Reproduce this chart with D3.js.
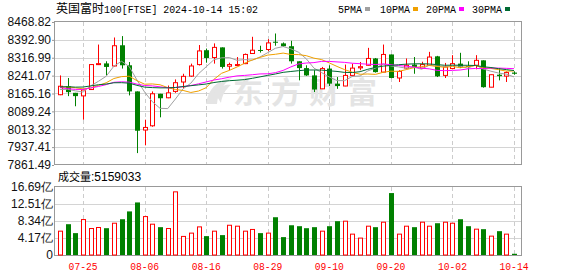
<!DOCTYPE html>
<html>
<head>
<meta charset="utf-8">
<script src="https://cdn.jsdelivr.net/npm/d3@7/dist/d3.min.js"></script>
<style>
	body { margin: 0; background: #fff; }
</style>
</head>
<body>
<svg id="chart" width="578" height="276"></svg>
<script>

// ---- data ----
var dates = ["07-22","07-23","07-24","07-25","07-26","07-29","07-30","07-31","08-01","08-02",
	"08-05","08-06","08-07","08-08","08-09","08-12","08-13","08-14","08-15","08-16",
	"08-19","08-20","08-21","08-22","08-23","08-27","08-28","08-29","08-30","09-02",
	"09-03","09-04","09-05","09-06","09-09","09-10","09-11","09-12","09-13","09-16",
	"09-17","09-18","09-19","09-20","09-23","09-24","09-25","09-26","09-27","09-30",
	"10-01","10-02","10-03","10-04","10-07","10-08","10-09","10-10","10-11","10-14"];

var open  = [8160,8196,8168,8155,8182,8288,8293,8282,8370,8285, 8174,8010,8028,8164,8147,8174,8214,8239,8288,8349,
	8318,8361,8281,8285,8292,8335,8350,8352,8385,8378, 8366,8302,8273,8242,8185,8271,8207,8197,8242,8274,
	8285,8314,8256,8331,8231,8273,8288,8273,8285,8323, 8242,8271,8292,8282,8285,8306,8192,8245,8239,8254];
var high  = [8242,8231,8168,8182,8290,8373,8302,8403,8409,8299, 8174,8054,8174,8164,8199,8225,8249,8292,8371,8356,
	8378,8361,8296,8320,8335,8406,8368,8396,8420,8382, 8389,8302,8285,8264,8278,8285,8235,8288,8292,8299,
	8359,8316,8373,8331,8264,8314,8320,8300,8342,8325, 8295,8328,8338,8302,8328,8306,8245,8273,8259,8259];
var low   = [8158,8154,8111,8054,8180,8286,8242,8280,8271,8157, 7912,7945,8024,8064,8145,8168,8188,8236,8284,8296,
	8292,8271,8264,8282,8290,8334,8339,8345,8368,8363, 8292,8221,8240,8171,8184,8197,8185,8196,8238,8264,
	8284,8254,8255,8230,8214,8268,8249,8270,8283,8235, 8231,8268,8273,8235,8268,8190,8192,8221,8214,8245];
var close = [8196,8171,8154,8180,8288,8292,8278,8368,8285,8174, 8007,8021,8164,8145,8168,8211,8238,8282,8346,8316,
	8361,8278,8288,8288,8331,8349,8346,8380,8381,8366, 8302,8273,8242,8182,8271,8207,8197,8242,8273,8279,
	8314,8256,8331,8231,8259,8285,8278,8288,8320,8238, 8278,8292,8278,8278,8306,8192,8245,8239,8254,8249];

// closes of the 29 sessions before 07-22, only used so the averages start at the left edge
var prevClose = [8147.81,8215.48,8163.67,8146.86,8142.15,8191.29,8205.11,8272.46,8237.72,8281.55,
	8247.79,8225.33,8179.68,8164.12,8166.76,8121.20,8171.17,8241.26,8203.93,8175.53,
	8139.81,8193.51,8223.34,8252.91,8182.96,8164.90,8187.46,8204.89,8155.72];

// volume, 亿
var volume = [5.85,7.56,5.37,8.7,6.5,6.75,6.58,7.8,8.78,10.7, 12.9,9.43,7.56,6.83,6.5,15.5,4.56,5.37,6.9,4.63,
	5.85,4.88,7.3,7.07,5.85,6.27,5.37,5.37,9.27,4.39, 7.3,7.07,6.58,6.83,5.85,7.07,8.3,8.3,5.12,4.15,
	7.07,6.83,8.05,15.2,5.12,7.07,6.83,8.05,7.07,7.8, 8.05,7.8,8.78,7.07,6.34,6.34,4.63,5.85,5.12,0.3];

var yTicks = [7861.49,7937.41,8013.32,8089.24,8165.16,8241.07,8316.99,8392.90,8468.82];
var volTicks = [0,4.17,8.34,12.51,16.69];
var xLabels = ["07-25","08-06","08-16","08-29","09-10","09-20","10-02","10-14"];

var maNames = ["5PMA","10PMA","20PMA","30PMA"];
var maDays = [5,10,20,30];
var maColors = ["#a0a0a0","#f0a000","#ff00ff","#006a33"];

var UP = "#ff0000", DOWN = "#008000";
var NUM_FONT = "'Liberation Sans', Arial, sans-serif";
var MONO_FONT = "'Liberation Mono', 'DejaVu Sans Mono', monospace";
var CJK_FONT = "'Noto Sans CJK SC', sans-serif";

var svg = d3.select("#chart");

var L = 54, R = 522;
var x = d3.scalePoint().domain(dates).range([60, 514]);
var y = d3.scaleLinear().domain([yTicks[0], yTicks[yTicks.length-1]]).range([165, 22]);
var yv = d3.scaleLinear().domain([0, volTicks[volTicks.length-1]]).range([255, 187]);

function crisp(v){ return Math.round(v) + 0.5; }

// ---- grid ----
var grid = svg.append("g");

grid.selectAll("line.hg").data(yTicks.slice(1, -1)).enter()
	.append("line")
	.attr("x1", L).attr("x2", R)
	.attr("y1", function(d){ return crisp(y(d)); })
	.attr("y2", function(d){ return crisp(y(d)); })
	.attr("stroke", "#d4d4d4");

grid.selectAll("line.vg").data(volTicks.slice(1, -1)).enter()
	.append("line")
	.attr("x1", L).attr("x2", R)
	.attr("y1", function(d){ return crisp(yv(d)); })
	.attr("y2", function(d){ return crisp(yv(d)); })
	.attr("stroke", "#d4d4d4");

// dashed day lines, both panels
[[22,165],[187,255]].forEach(function(span){
	grid.selectAll(null).data(xLabels).enter()
		.append("line")
		.attr("x1", function(d){ return crisp(x(d)); })
		.attr("x2", function(d){ return crisp(x(d)); })
		.attr("y1", span[0]).attr("y2", span[1])
		.attr("stroke", "#cccccc")
		.attr("stroke-dasharray", "4,3");
});

// watermark
var wm = svg.append("g").attr("fill", "#e4e4e4");
wm.append("path").attr("d", "M206,104 C208,90 216,80 232,78 C222,84 218,94 217,104 Z");
wm.append("path").attr("d", "M214,92 C220,86 226,84 231,85 C226,89 222,95 221,103 Z");
wm.append("text")
	.attr("x", 233).attr("y", 103)
	.attr("font-family", CJK_FONT)
	.attr("font-weight", "bold")
	.attr("font-size", 30)
	.attr("letter-spacing", 8)
	.text("东方财富");

// frames
svg.append("rect").attr("x", L+0.5).attr("y", 21.5).attr("width", R-L-1).attr("height", 143)
	.attr("fill", "none").attr("stroke", "#999");
svg.append("rect").attr("x", L+0.5).attr("y", 186.5).attr("width", R-L-1).attr("height", 69)
	.attr("fill", "none").attr("stroke", "#999");

// ---- candles ----
var bars = dates.map(function(d, i){
	return { date: d, o: open[i], h: high[i], l: low[i], c: close[i], v: volume[i], up: close[i] >= open[i] };
});

var candle = svg.append("g").selectAll("g").data(bars).enter().append("g");

candle.append("line")
	.attr("x1", function(d){ return crisp(x(d.date)); })
	.attr("x2", function(d){ return crisp(x(d.date)); })
	.attr("y1", function(d){ return y(d.h); })
	.attr("y2", function(d){ return y(d.l); })
	.attr("stroke", function(d){ return d.up ? UP : DOWN; });

candle.append("rect")
	.attr("x", function(d){ return d.up ? Math.round(x(d.date)) - 1.5 : Math.round(x(d.date)) - 2; })
	.attr("y", function(d){ return y(Math.max(d.o, d.c)); })
	.attr("width", function(d){ return d.up ? 4 : 5; })
	.attr("height", function(d){ return Math.max(1, Math.abs(y(d.o) - y(d.c))); })
	.attr("fill", function(d){ return d.up ? "#fff" : DOWN; })
	.attr("stroke", function(d){ return d.up ? UP : "none"; });

// ---- moving averages ----
var all = prevClose.concat(close);
var line = d3.line()
	.x(function(d){ return x(d.date); })
	.y(function(d){ return y(d.v); });

maDays.forEach(function(n, k){
	var pts = dates.map(function(d, i){
		var j = prevClose.length + i;
		return { date: d, v: d3.mean(all.slice(j - n + 1, j + 1)) };
	});
	svg.append("path")
		.datum(pts)
		.attr("d", line)
		.attr("fill", "none")
		.attr("stroke", maColors[k])
		.attr("stroke-width", 1);
});

// ---- volume ----
svg.append("g").selectAll("rect").data(bars).enter()
	.append("rect")
	.attr("x", function(d){ return d.up ? Math.round(x(d.date)) - 1.5 : Math.round(x(d.date)) - 2; })
	.attr("y", function(d){ return yv(d.v); })
	.attr("width", function(d){ return d.up ? 4 : 5; })
	.attr("height", function(d){ return yv(0) - yv(d.v); })
	.attr("fill", function(d){ return d.up ? "#fff" : DOWN; })
	.attr("stroke", function(d){ return d.up ? UP : "none"; });

// ---- axes ----
var ya = svg.append("g")
	.attr("transform", "translate(" + L + ",0)")
	.call(d3.axisLeft(y).tickValues(yTicks).tickFormat(d3.format(".2f")).tickSize(2).tickPadding(1));
ya.select(".domain").remove();
ya.selectAll("line").attr("stroke", "#999");
ya.selectAll("text").attr("font-family", NUM_FONT).attr("font-size", 12).attr("fill", "#111");

var va = svg.append("g")
	.attr("transform", "translate(" + L + ",0)")
	.call(d3.axisLeft(yv).tickValues(volTicks).tickSize(0).tickPadding(1)
		.tickFormat(function(d){ return d === 0 ? "0" : d3.format(".2f")(d) + "亿"; }));
va.select(".domain").remove();
va.selectAll("text").attr("font-family", NUM_FONT).attr("font-size", 12).attr("fill", "#111");

svg.append("g").selectAll("text").data(xLabels).enter()
	.append("text")
	.attr("x", function(d){ return x(d) - 14.5; })
	.attr("y", 270)
	.attr("font-family", MONO_FONT)
	.attr("font-size", 11)
	.attr("textLength", 29)
	.attr("lengthAdjust", "spacingAndGlyphs")
	.attr("fill", UP)
	.text(function(d){ return d; });

// ---- title, legend ----
svg.append("text").attr("x", 56).attr("y", 13)
	.attr("font-family", CJK_FONT).attr("font-size", 12)
	.text("英国富时");
svg.append("text").attr("x", 104).attr("y", 13)
	.attr("font-family", MONO_FONT).attr("font-size", 11)
	.attr("textLength", 154).attr("lengthAdjust", "spacingAndGlyphs")
	.text("100[FTSE] 2024-10-14 15:02");

var legX = [338, 380, 426, 472];
var legW = [24, 30, 30, 30];
var leg = svg.append("g").selectAll("g").data(maNames).enter().append("g");
leg.append("text")
	.attr("x", function(d, i){ return legX[i]; })
	.attr("y", 13)
	.attr("font-family", MONO_FONT)
	.attr("font-size", 11)
	.attr("textLength", function(d, i){ return legW[i]; })
	.attr("lengthAdjust", "spacingAndGlyphs")
	.text(function(d){ return d; });
leg.append("rect")
	.attr("x", function(d, i){ return legX[i] + legW[i] + 3; })
	.attr("y", 7)
	.attr("width", 5).attr("height", 4)
	.attr("fill", function(d, i){ return maColors[i]; });

// volume caption
var cap = svg.append("text").attr("x", 58).attr("y", 181);
cap.append("tspan")
	.attr("font-family", CJK_FONT).attr("font-size", 11)
	.text("成交量");
cap.append("tspan")
	.attr("font-family", NUM_FONT).attr("font-size", 12)
	.text(":5159033");

</script>
</body>
</html>
